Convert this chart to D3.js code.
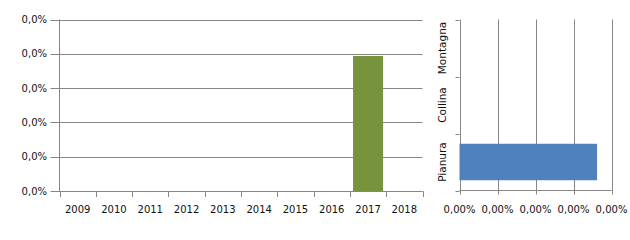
<!DOCTYPE html>
<html>
<head>
<meta charset="utf-8">
<script src="https://cdn.jsdelivr.net/npm/d3@7"></script>
<style>
  body { margin: 0; background: #fff; }
  svg { display: block; }
  text { font-family: "DejaVu Sans", Verdana, sans-serif; fill: #111; }
</style>
</head>
<body>
<svg id="chart" width="630" height="240"></svg>
<script>
// data
var years = ['2009', '2010', '2011', '2012', '2013', '2014', '2015', '2016', '2017', '2018'];
var yearValues = [0, 0, 0, 0, 0, 0, 0, 0, 0.000315, 0];
var yearTicks = [0, 0.00008, 0.00016, 0.00024, 0.00032, 0.0004];

var zones = ['Pianura', 'Collina', 'Montagna'];
var zoneValues = [0.0000362, 0, 0];
var zoneTicks = [0, 0.00001, 0.00002, 0.00003, 0.00004];

// labels show as 0,0% / 0,00% because the values are tiny
var it = d3.formatLocale({decimal: ',', thousands: '.', grouping: [3], currency: ['', '€']});
var fmt1 = it.format('.1%');
var fmt2 = it.format('.2%');

var svg = d3.select('#chart');
var gridColor = '#868686';

// left chart: columns by year
var left = {x0: 59.5, x1: 422.5, y0: 19.5, y1: 191};

var x = d3.scaleBand()
	.domain(years)
	.range([left.x0, left.x1])
	.paddingInner(0.174)
	.paddingOuter(0.087);
var y = d3.scaleLinear()
	.domain([0, 0.0004])
	.range([left.y1, left.y0]);

var gl = svg.append('g');

// horizontal gridlines + tick marks + labels
gl.selectAll('.grid').data(yearTicks).enter().append('line')
	.attr('x1', left.x0 - 9).attr('x2', left.x1)
	.attr('y1', function(d){ return Math.round(y(d)) + 0.5; })
	.attr('y2', function(d){ return Math.round(y(d)) + 0.5; })
	.style('stroke', gridColor).style('stroke-width', 1);

gl.selectAll('.ylab').data(yearTicks).enter().append('text')
	.attr('x', 47)
	.attr('y', function(d){ return y(d); })
	.attr('dy', '0.35em')
	.attr('text-anchor', 'end')
	.style('font-size', '10px')
	.text(function(d){ return fmt1(d); });

var step = x.step();
var edges = d3.range(years.length + 1).map(function(i){ return left.x0 + i * step; });

gl.append('line')
	.attr('x1', left.x0).attr('x2', left.x0)
	.attr('y1', left.y0).attr('y2', left.y1)
	.style('stroke', gridColor);

gl.selectAll('.xtick').data(edges).enter().append('line')
	.attr('x1', function(d){ return Math.round(d) + 0.5; })
	.attr('x2', function(d){ return Math.round(d) + 0.5; })
	.attr('y1', left.y1).attr('y2', left.y1 + 6)
	.style('stroke', gridColor);

gl.selectAll('.bar').data(yearValues).enter().append('rect')
	.attr('x', function(d, i){ return x(years[i]); })
	.attr('width', x.bandwidth())
	.attr('y', function(d){ return y(d); })
	.attr('height', function(d){ return y(0) - y(d); })
	.style('fill', '#77933c');

gl.selectAll('.xlab').data(years).enter().append('text')
	.attr('x', function(d){ return x(d) + x.bandwidth() / 2; })
	.attr('y', 209)
	.attr('dy', '0.35em')
	.attr('text-anchor', 'middle')
	.style('font-size', '10px')
	.text(function(d){ return d; });

// right chart: horizontal bars by zone
var right = {x0: 459.5, x1: 611.5, y0: 19.5, y1: 190.5};

var xr = d3.scaleLinear()
	.domain([0, 0.00004])
	.range([right.x0, right.x1]);
var yr = d3.scaleBand()
	.domain(zones.slice().reverse())
	.range([right.y0, right.y1])
	.paddingInner(0.36)
	.paddingOuter(0.18);

var gr = svg.append('g');

gr.selectAll('.vgrid').data(zoneTicks).enter().append('line')
	.attr('x1', function(d){ return Math.round(xr(d)) + 0.5; })
	.attr('x2', function(d){ return Math.round(xr(d)) + 0.5; })
	.attr('y1', right.y0).attr('y2', right.y1 + 4)
	.style('stroke', gridColor);

gr.append('line')
	.attr('x1', right.x0).attr('x2', right.x1)
	.attr('y1', right.y1).attr('y2', right.y1)
	.style('stroke', gridColor);

var rstep = yr.step();
var redges = d3.range(zones.length + 1).map(function(i){ return right.y0 + i * rstep; });

gr.selectAll('.ytick').data(redges).enter().append('line')
	.attr('x1', right.x0 - 4).attr('x2', right.x0)
	.attr('y1', function(d){ return Math.round(d) + 0.5; })
	.attr('y2', function(d){ return Math.round(d) + 0.5; })
	.style('stroke', gridColor);

gr.selectAll('.hbar').data(zoneValues).enter().append('rect')
	.attr('x', right.x0)
	.attr('y', function(d, i){ return yr(zones[i]); })
	.attr('height', yr.bandwidth())
	.attr('width', function(d){ return xr(d) - xr(0); })
	.style('fill', '#4f81bd');

gr.selectAll('.zlab').data(zones).enter().append('text')
	.attr('transform', function(d){
		return 'translate(446,' + (yr(d) + yr.bandwidth() / 2) + ') rotate(-90)';
	})
	.attr('text-anchor', 'middle')
	.style('font-size', '10.5px')
	.text(function(d){ return d; });

gr.selectAll('.xrlab').data(zoneTicks).enter().append('text')
	.attr('x', function(d){ return xr(d); })
	.attr('y', 209)
	.attr('dy', '0.35em')
	.attr('text-anchor', 'middle')
	.style('font-size', '10px')
	.text(function(d){ return fmt2(d); });
</script>
</body>
</html>
